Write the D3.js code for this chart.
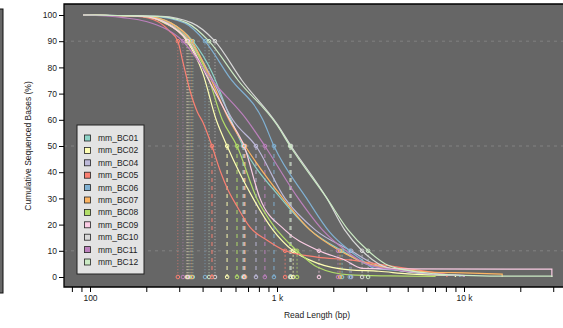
<!DOCTYPE html>
<html>
<head>
<meta charset="utf-8">
<script src="https://cdn.jsdelivr.net/npm/d3@7"></script>
<style>
  body { margin: 0; background: #fff; }
  svg { display: block; font-family: "Liberation Sans", Arial, sans-serif; }
</style>
</head>
<body>
<div id="chart"></div>
<script>
// sample names + Set3 colours
const samples = ['mm_BC01', 'mm_BC02', 'mm_BC04', 'mm_BC05', 'mm_BC06', 'mm_BC07',
  'mm_BC08', 'mm_BC09', 'mm_BC10', 'mm_BC11', 'mm_BC12'];
const colors = ['#8dd3c7', '#ffffb3', '#bebada', '#fb8072', '#80b1d3', '#fdb462',
  '#b3de69', '#fccde5', '#d9d9d9', '#bc80bd', '#ccebc5'];

// cumulative curves: [read length (bp), cumulative % of bases]
const bc01 = [[92, 100], [200, 99.5], [270, 97], [355, 90], [450, 78], [560, 61], [658, 50], [1050, 30], [1500, 18], [2228, 10], [3000, 5], [4000, 3], [6000, 1.5], [9000, 0.8]];
const bc02 = [[92, 100], [190, 99.5], [250, 97], [330, 90], [400, 78], [473, 60], [541, 50], [745, 30], [950, 18], [1220, 10], [1640, 5.3], [2450, 2.7], [3500, 2.2], [5000, 1.2], [9000, 0.6]];
const bc04 = [[92, 100], [190, 99.5], [260, 97], [343, 90], [440, 77], [580, 60], [772, 50], [1104, 30], [1600, 18], [2490, 10], [3300, 5], [4500, 2.5], [7000, 1.2], [10000, 0.5]];
const bc05 = [[92, 100], [180, 99.5], [230, 97.5], [265, 94], [295, 90], [314, 82], [343, 71], [375, 63], [402, 59], [449, 50], [500, 40], [541, 34], [611, 27], [717, 19], [885, 14], [1105, 10], [1637, 7.6], [2450, 6.5], [3690, 4.6], [5800, 2.5], [8100, 1]];
const bc06 = [[92, 100], [220, 99.5], [320, 97], [412, 90], [560, 76], [840, 60], [963, 50], [1440, 30], [1918, 17], [2450, 10], [2850, 6.5], [3300, 3.4], [4500, 2.5], [6500, 1.3], [9500, 0.6]];
const bc07 = [[92, 100], [200, 99.5], [270, 97], [350, 90], [440, 76], [554, 60], [675, 50], [1077, 30], [1500, 18], [2173, 10], [3000, 5.3], [4500, 3], [6500, 1.9], [11000, 1.5], [16000, 1.1]];
const bc08 = [[92, 100], [190, 99.5], [255, 97], [338, 90], [420, 78], [510, 60], [611, 50], [780, 30], [950, 20], [1280, 10], [1640, 3.8], [2450, 0.8], [4000, 0.4], [7000, 0.2]];
const bc09 = [[92, 100], [190, 99.5], [255, 97], [334, 90], [440, 74], [560, 60], [667, 50], [811, 30], [1100, 18], [1677, 10], [2300, 6.5], [2850, 3.3], [4500, 3.1], [29500, 3]];
const bc10 = [[92, 100], [240, 99.5], [350, 97], [466, 90], [650, 75], [1010, 58], [1189, 50], [1850, 30], [2300, 18], [2851, 10], [3500, 5], [4500, 2.5], [6500, 1.2], [10000, 0.5]];
const bc11 = [[92, 100], [150, 99], [200, 97.5], [314, 90], [450, 75], [690, 60], [861, 50], [1300, 30], [1750, 18], [2340, 10], [3000, 5], [4500, 2.5], [7000, 1.2], [10000, 0.6]];
const bc12 = [[92, 100], [230, 99.5], [330, 97], [433, 90], [620, 75], [1000, 58], [1174, 50], [1850, 30], [2400, 18], [3070, 10], [3800, 5], [5000, 2.5], [7000, 1.2], [10000, 0.6], [15000, 0.3], [29500, 0.3]];
const curves = [bc01, bc02, bc04, bc05, bc06, bc07, bc08, bc09, bc10, bc11, bc12];

// N90 / N50 / N10 read lengths per sample (same order as samples)
const n90 = [355, 330, 343, 295, 412, 350, 338, 334, 466, 314, 433];
const n50 = [658, 541, 772, 449, 963, 675, 611, 667, 1189, 861, 1174];
const n10 = [2228, 1220, 2490, 1105, 2450, 2173, 1280, 1677, 2851, 2119, 3070];

const xTicks = [80, 90, 100, 200, 300, 400, 500, 600, 700, 800, 900, 1000, 2000, 3000, 4000, 5000,
  6000, 7000, 8000, 9000, 10000, 20000, 30000];
const xLabels = { 100: '100', 1000: '1 k', 10000: '10 k' };
const yTicks = [0, 10, 20, 30, 40, 50, 60, 70, 80, 90, 100];
const gridLevels = [10, 50, 90];

const width = 563;
const height = 328;
const panel = { left: 64, top: 4, right: 575, bottom: 287 };

const svg = d3.select('#chart')
  .append('svg')
  .attr('width', width)
  .attr('height', height);

const x = d3.scaleLog().domain([100, 10000]).range([90, 464]);
const y = d3.scaleLinear().domain([0, 100]).range([277, 15]);

// cut-off neighbour panel on the far left
svg.append('rect')
  .attr('x', -6).attr('y', 9)
  .attr('width', 9).attr('height', 284)
  .attr('fill', '#666').attr('stroke', '#111').attr('stroke-width', 1);

svg.append('rect')
  .attr('x', panel.left).attr('y', panel.top)
  .attr('width', panel.right - panel.left).attr('height', panel.bottom - panel.top)
  .attr('fill', '#666666');

// dashed guides at 10 / 50 / 90
svg.append('g').selectAll('line')
  .data(gridLevels)
  .join('line')
  .attr('x1', panel.left).attr('x2', panel.right)
  .attr('y1', d => y(d)).attr('y2', d => y(d))
  .attr('stroke', '#828282')
  .attr('stroke-width', 1)
  .attr('stroke-dasharray', '3,4');

const refs = svg.append('g').attr('class', 'refs');
const levels = [
  { vals: n90, level: 90, dash: '1,2', w: 1, op: 0.7 },
  { vals: n50, level: 50, dash: '4,4', w: 1.6, op: 0.6 },
  { vals: n10, level: 10, dash: '2,2', w: 1, op: 0.7 }
];
levels.forEach(lv => {
  refs.append('g').selectAll('line')
    .data(lv.vals)
    .join('line')
    .attr('x1', d => x(d)).attr('x2', d => x(d))
    .attr('y1', y(lv.level)).attr('y2', y(0))
    .attr('stroke', (d, i) => colors[i])
    .attr('stroke-width', lv.w)
    .attr('stroke-dasharray', lv.dash)
    .attr('opacity', lv.op);
});

const line = d3.line()
  .x(d => x(d[0]))
  .y(d => y(d[1]))
  .curve(d3.curveMonotoneX);

const lines = svg.append('g').attr('class', 'curves');
curves.forEach((c, i) => {
  const last = c[c.length - 1];
  lines.append('path')
    .attr('d', line(c) + `L${x(last[0])},${y(0)}`)
    .attr('fill', 'none')
    .attr('stroke', colors[i])
    .attr('stroke-width', 1.2);
});

// markers on the curves and on the zero line
const marks = svg.append('g').attr('class', 'marks');
levels.forEach(lv => {
  [lv.level, 0].forEach(lvl => {
    marks.append('g').selectAll('circle')
      .data(lv.vals)
      .join('circle')
      .attr('cx', d => x(d))
      .attr('cy', y(lvl))
      .attr('r', 1.8)
      .attr('fill', 'none')
      .attr('stroke', (d, i) => colors[i])
      .attr('stroke-width', 1);
  });
});

// frame
svg.append('path')
  .attr('d', `M${panel.right},${panel.top}H${panel.left}V${panel.bottom}H${panel.right}`)
  .attr('fill', 'none')
  .attr('stroke', '#000')
  .attr('stroke-width', 1.3);

const xAxis = svg.append('g')
  .attr('transform', `translate(0,${panel.bottom})`)
  .call(d3.axisBottom(x).tickValues(xTicks).tickSize(5).tickPadding(3)
    .tickFormat(d => xLabels[d] || ''));
xAxis.select('.domain').remove();

const yAxis = svg.append('g')
  .attr('transform', `translate(${panel.left},0)`)
  .call(d3.axisLeft(y).tickValues(yTicks).tickSize(5).tickPadding(2));
yAxis.select('.domain').remove();

[xAxis, yAxis].forEach(a => {
  a.selectAll('text').attr('font-size', 8.5).attr('fill', '#222')
    .attr('font-family', '"Liberation Sans", Arial, sans-serif');
  a.selectAll('line').attr('stroke', '#000');
});

svg.append('text')
  .attr('x', 317).attr('y', 318)
  .attr('text-anchor', 'middle')
  .attr('font-size', 8.5)
  .attr('fill', '#222')
  .text('Read Length (bp)');

svg.append('text')
  .attr('transform', 'translate(31,146) rotate(-90)')
  .attr('text-anchor', 'middle')
  .attr('font-size', 8.5)
  .attr('fill', '#222')
  .text('Cumulative Sequenced Bases (%)');

// legend
const legend = svg.append('g').attr('class', 'legend');
legend.append('rect')
  .attr('x', 77).attr('y', 125)
  .attr('width', 67).attr('height', 149)
  .attr('fill', '#e3e3e3')
  .attr('stroke', '#222')
  .attr('stroke-width', 1);
const items = legend.selectAll('g.item')
  .data(samples)
  .join('g')
  .attr('class', 'item')
  .attr('transform', (d, i) => `translate(0,${138 + i * 12.4})`);
items.append('rect')
  .attr('x', 84.5).attr('y', -3)
  .attr('width', 6).attr('height', 6)
  .attr('fill', (d, i) => colors[i])
  .attr('stroke', '#222')
  .attr('stroke-width', 0.8);
items.append('text')
  .attr('x', 98).attr('y', 0)
  .attr('dominant-baseline', 'central')
  .attr('font-size', 8.5)
  .attr('fill', '#222')
  .text(d => d);
</script>
</body>
</html>
